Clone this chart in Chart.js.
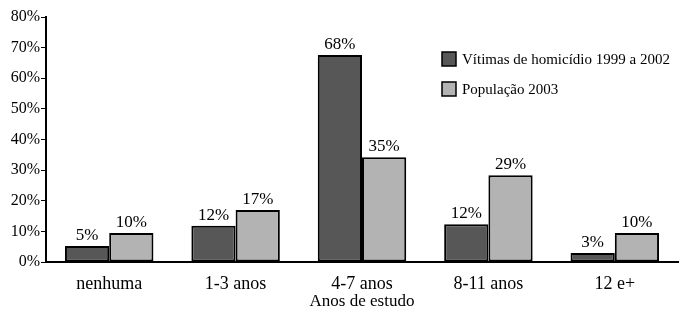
<!DOCTYPE html>
<html>
<head>
<meta charset="utf-8">
<script src="https://cdn.jsdelivr.net/npm/chart.js"></script>
<style>
  html, body { margin: 0; padding: 0; background: #fff; }
  #wrap { width: 687px; height: 312px; position: relative; }
</style>
</head>
<body>
<div id="wrap"><canvas id="chart"></canvas></div>
<script>
// categories and series
const categories = ['nenhuma', '1-3 anos', '4-7 anos', '8-11 anos', '12 e+'];
const vitimas = [5.2, 11.8, 67.6, 12.3, 2.9];
const populacao = [9.5, 17.0, 34.2, 28.3, 9.5];
const vitimasLabels = ['5%', '12%', '68%', '12%', '3%'];
const populacaoLabels = ['10%', '17%', '35%', '29%', '10%'];
const yTicks = [0, 10, 20, 30, 40, 50, 60, 70, 80];

const FONT = '"Liberation Serif", "DejaVu Serif", serif';

// value labels above bars
const valueLabels = {
    id: 'valueLabels',
    afterDatasetsDraw(chart){
        const ctx = chart.ctx;
        ctx.save();
        ctx.font = '17px ' + FONT;
        ctx.fillStyle = '#000';
        ctx.textAlign = 'center';
        ctx.textBaseline = 'bottom';
        chart.data.datasets.forEach((ds, i) => {
            const meta = chart.getDatasetMeta(i);
            meta.data.forEach((bar, j) => {
                ctx.fillText(ds.valueText[j], bar.x, bar.y - 2);
            });
        });
        ctx.restore();
    }
};

// legend drawn inside the plot, upper right
const boxLegend = {
    id: 'boxLegend',
    afterDraw(chart){
        const ctx = chart.ctx;
        ctx.save();
        ctx.font = '15px ' + FONT;
        ctx.textBaseline = 'middle';
        chart.data.datasets.forEach((ds, i) => {
            const x = 442, y = 52 + i * 30;
            ctx.fillStyle = ds.backgroundColor;
            ctx.fillRect(x, y, 14, 14);
            ctx.strokeStyle = '#000';
            ctx.lineWidth = 1.5;
            ctx.strokeRect(x, y, 14, 14);
            ctx.fillStyle = '#000';
            ctx.fillText(ds.label, x + 20, y + 8);
        });
        ctx.restore();
    }
};

new Chart(document.getElementById('chart'), {
    type: 'bar',
    data: {
        labels: categories,
        datasets: [
            {
                label: 'Vítimas de homicídio 1999 a 2002',
                data: vitimas,
                valueText: vitimasLabels,
                backgroundColor: '#575757',
                borderColor: '#000',
                borderWidth: 2,
                borderSkipped: false
            },
            {
                label: 'População 2003',
                data: populacao,
                valueText: populacaoLabels,
                backgroundColor: '#b3b3b3',
                borderColor: '#000',
                borderWidth: 2,
                borderSkipped: false
            }
        ]
    },
    options: {
        responsive: true,
        maintainAspectRatio: false,
        animation: false,
        categoryPercentage: 0.7,
        barPercentage: 1.0,
        layout: { padding: { top: 17, right: 9, left: 0, bottom: 0 } },
        plugins: {
            legend: { display: false },
            tooltip: { enabled: false }
        },
        scales: {
            x: {
                grid: { display: true, drawOnChartArea: false, drawTicks: false },
                border: { color: '#000', width: 2 },
                ticks: { color: '#000', font: { family: FONT, size: 18 }, padding: 11 },
                title: {
                    display: true,
                    text: 'Anos de estudo',
                    color: '#000',
                    font: { family: FONT, size: 17 },
                    padding: { top: -4, bottom: 0 }
                },
                afterFit(scale){ scale.height = 50; }
            },
            y: {
                min: 0,
                max: 80,
                afterBuildTicks(scale){ scale.ticks = yTicks.map(v => ({ value: v })); },
                grid: { drawOnChartArea: false, drawTicks: true, tickLength: 5, color: '#000', lineWidth: 1 },
                border: { color: '#000', width: 2 },
                ticks: {
                    color: '#000',
                    font: { family: FONT, size: 16 },
                    padding: 1,
                    callback: v => v + '%'
                },
                afterFit(scale){ scale.width = 46; }
            }
        }
    },
    plugins: [valueLabels, boxLegend]
});
</script>
</body>
</html>
